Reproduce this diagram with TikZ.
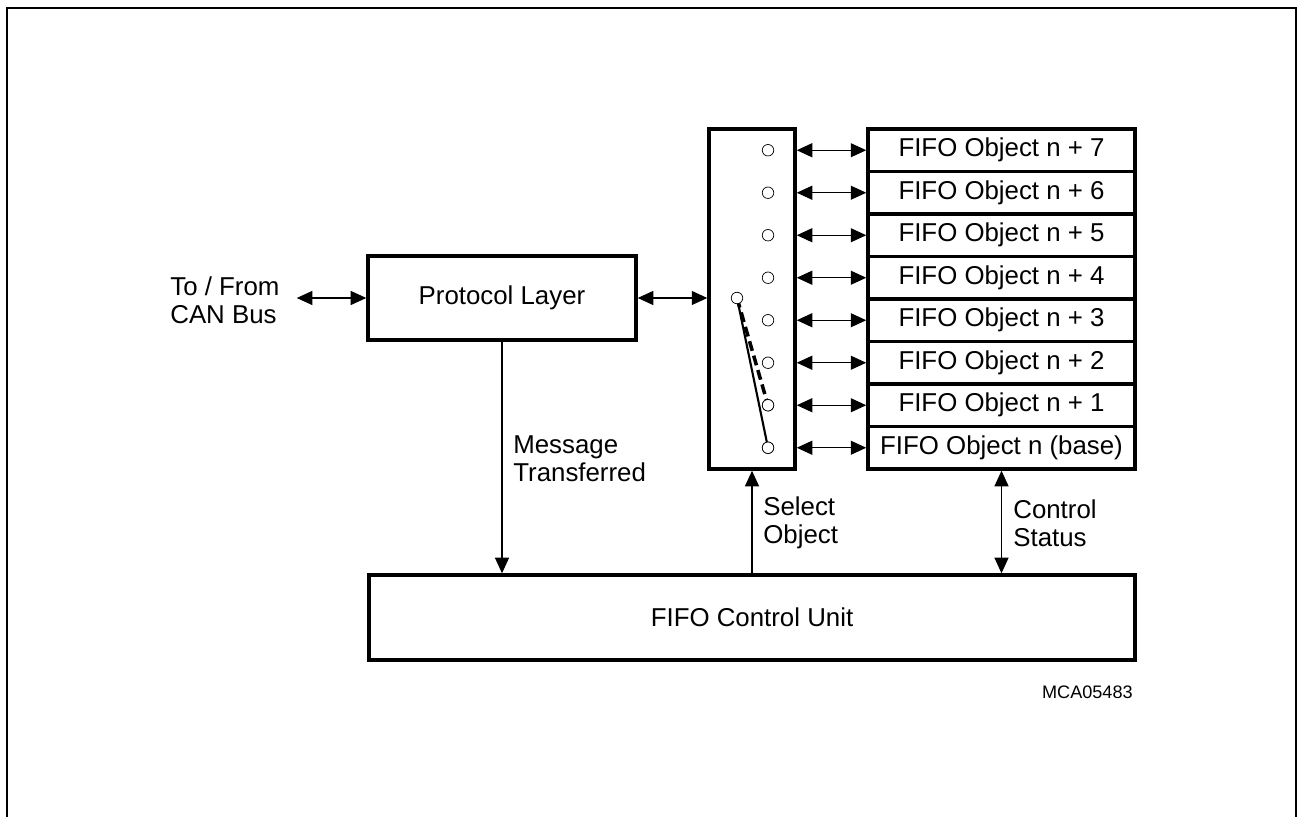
\documentclass[tikz,border=0pt]{standalone}
\usepackage{fontspec}
\setmainfont{Liberation Sans}
\usepackage{tikz}
\usetikzlibrary{arrows.meta,positioning,calc}
\tikzset{
  blk/.style={draw, line width=2pt, inner sep=0pt, align=center,
              font=\fontsize{14.7}{16}\selectfont},
  lbl/.style={inner sep=0pt, align=left, font=\fontsize{14.7}{16}\selectfont},
  contact/.style={circle, draw, thin, fill=white, minimum size=0.23cm, inner sep=0pt},
  flow/.style={-{Triangle[length=0.31cm,width=0.28cm]}, line width=0.6pt},
  biflow/.style={{Triangle[length=0.31cm,width=0.28cm]}-{Triangle[length=0.31cm,width=0.28cm]}, line width=0.6pt},
}
\begin{document}
\begin{tikzpicture}
    \useasboundingbox (0,0) rectangle (25.96,16.34);
    \draw[line width=1.6pt] (0.14,0) -- (0.14,16.18) -- (25.92,16.18) -- (25.92,0);
    \node[lbl, anchor=west] (canbus) at (3.4,10.34) {To / From\\CAN Bus};
    \node[blk, minimum width=5.36cm, minimum height=1.68cm] (proto) at (10.04,10.38) {Protocol Layer};
    \node[blk, minimum width=1.72cm, minimum height=6.8cm] (mux) at (15.04,10.36) {};
    \node[blk, minimum width=15.32cm, minimum height=1.7cm] (fcu) at (15.04,3.99) {FIFO Control Unit};
    % fifo objects and selector contacts
    \foreach \i/\txt in {0/{n (base)},1/{n + 1},2/{n + 2},3/{n + 3},4/{n + 4},5/{n + 5},6/{n + 6},7/{n + 7}} {
      \node[blk, minimum width=5.34cm, minimum height=0.85cm] (f\i) at (20.03,7.385+0.85*\i) {FIFO Object \txt};
      \node[contact] (c\i) at (15.36,7.385+0.85*\i) {};
      \draw[biflow] (f\i.west -| mux.east) -- (f\i.west);
    }
    \coordinate (pivot) at (14.74,10.38);
    \draw[line width=1.2pt] (pivot) -- (c0.center);
    \draw[line width=2pt, dash pattern=on 0.2cm off 0.1cm] (pivot) -- (c1.center);
    \node[contact] at (pivot) {};
    \node[contact] at (c0) {};
    \node[contact] at (c1) {};
    \draw[biflow] ([xshift=0.34cm]canbus.east |- proto.west) -- (proto.west);
    \draw[biflow] (proto.east) -- (mux.west |- proto.east);
    \draw[flow] (proto.south) -- (proto.south |- fcu.north);
    \draw[flow] (fcu.north -| mux.south) -- (mux.south);
    \draw[biflow] (f0.south) -- (f0.south |- fcu.north);
    \node[lbl, anchor=west] (msg) at (10.26,7.16) {Message\\Transferred};
    \node[lbl, anchor=west] (sel) at (15.26,5.88) {Select\\Object};
    \node[lbl, anchor=west] (ctl) at (20.26,5.88) {Control\\Status};
    \node[inner sep=0pt, font=\fontsize{10.3}{12}\selectfont, anchor=east] (ref) at (22.66,2.5) {MCA05483};
\end{tikzpicture}
\end{document}
